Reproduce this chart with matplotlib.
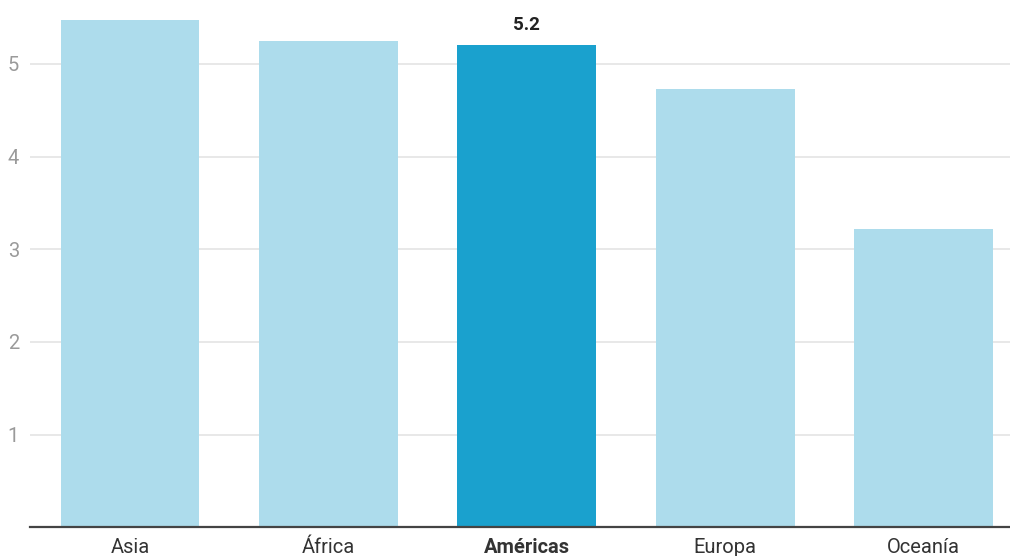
import matplotlib
matplotlib.use('Agg')
import matplotlib.pyplot as plt

plt.rcParams['font.family'] = ['Roboto', 'DejaVu Sans']

regions = ['Asia', 'África', 'Américas', 'Europa', 'Oceanía']
values = [5.47, 5.25, 5.2, 4.73, 3.22]
highlight = 'Américas'
yticks = [1, 2, 3, 4, 5]

light = '#addcec'
dark = '#1aa1ce'

fig = plt.figure(figsize=(10.1, 5.56), dpi=100)
ax = fig.add_axes([30 / 1010, 28.7 / 556, 980 / 1010, 527.3 / 556])

colors = [dark if r == highlight else light for r in regions]
bars = ax.bar(range(len(regions)), values, width=0.70, color=colors, zorder=2)

for i, r in enumerate(regions):
    if r == highlight:
        ax.text(i, values[i] + 0.12, f'{values[i]:.1f}', ha='center', va='bottom',
                fontsize=13.5, fontweight='bold', color='#222222')

ax.set_xlim(-0.504, 4.435)
ax.set_ylim(0, 5.69)
ax.set_yticks(yticks)
ax.set_yticklabels([str(t) for t in yticks])
ax.set_xticks(range(len(regions)))
ax.set_xticklabels(regions)
for lbl, r in zip(ax.get_xticklabels(), regions):
    if r == highlight:
        lbl.set_fontweight('bold')

ax.grid(axis='y', color='#e6e6e6', linewidth=1.3, zorder=0)
ax.tick_params(axis='y', length=0, pad=8, labelsize=14.5, labelcolor='#9a9a9a')
ax.tick_params(axis='x', length=0, pad=8, labelsize=14.5, labelcolor='#333333')

for s in ['top', 'right', 'left']:
    ax.spines[s].set_visible(False)
ax.spines['bottom'].set_color('#444444')
ax.spines['bottom'].set_linewidth(1.6)
ax.spines['bottom'].set_zorder(3)

fig.savefig('out.png', dpi=100)
